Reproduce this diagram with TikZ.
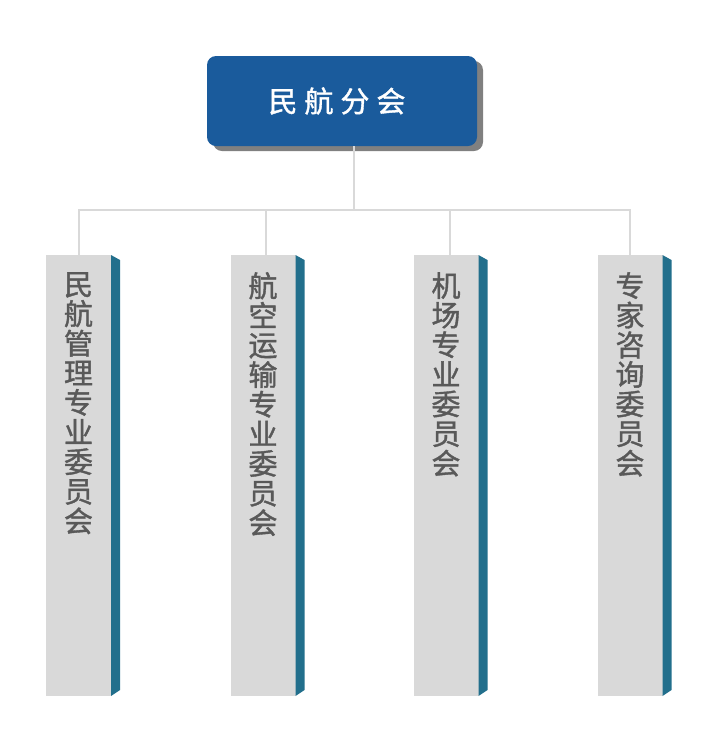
\documentclass[tikz,border=0pt]{standalone}
\usepackage{fontspec}
\setmainfont{Noto Sans CJK SC}
\newfontfamily\cjkmid[FakeBold=1.3]{Noto Sans CJK SC}
\usetikzlibrary{positioning,shadows}
\definecolor{headblue}{RGB}{26,91,156}
\definecolor{shadegray}{RGB}{128,128,128}
\definecolor{panelgray}{RGB}{217,217,217}
\definecolor{sideteal}{RGB}{34,111,140}
\definecolor{textgray}{RGB}{89,89,89}

\begin{document}
\begin{tikzpicture}[
  x=1pt, y=-1pt,
  head/.style={fill=headblue, rounded corners=9pt, minimum width=270pt,
    minimum height=90pt, text=white, font=\cjkmid\fontsize{29}{30}\selectfont,
    drop shadow={shadow xshift=6pt, shadow yshift=-5pt, fill=shadegray, opacity=1}},
  panel/.style={fill=panelgray, minimum width=65pt, minimum height=441pt,
    inner sep=0pt, outer sep=0pt},
  vtext/.style={text=textgray, font=\cjkmid\fontsize{29}{29.6}\selectfont,
    align=center, inner sep=0pt},
  link/.style={draw=panelgray, line width=2pt}
]
\useasboundingbox (0,0) rectangle (709,748);

\node[head] (top) at (342,101) {\hspace{-10pt}民\hspace{7pt}航\hspace{7pt}分\hspace{7pt}会};

\node[panel] (p1) at (78.5,475.5) {};
\node[panel] (p2) at (263,475.5) {};
\node[panel] (p3) at (446,475.5) {};
\node[panel] (p4) at (630,475.5) {};

% side strips
\foreach \name in {p1,p2,p3,p4}
  \fill[sideteal] (\name.north east) -- ++(9,5) -- ++(0,430) -- (\name.south east) -- cycle;

\node[vtext, below=17pt of p1.north] (t1) {民\\航\\管\\理\\专\\业\\委\\员\\会};
\node[vtext, below=17pt of p2.north] (t2) {航\\空\\运\\输\\专\\业\\委\\员\\会};
\node[vtext, below=17pt of p3.north] (t3) {机\\场\\专\\业\\委\\员\\会};
\node[vtext, below=17pt of p4.north] (t4) {专\\家\\咨\\询\\委\\员\\会};

% connectors
\coordinate (bus) at (354,210);
\draw[link] (top.south -| bus) -- (bus);
\foreach \name/\dx in {p1/0.5,p2/3,p3/4,p4/0}
  \draw[link] (bus) -| ([xshift=\dx pt]\name.north);
\end{tikzpicture}
\end{document}
